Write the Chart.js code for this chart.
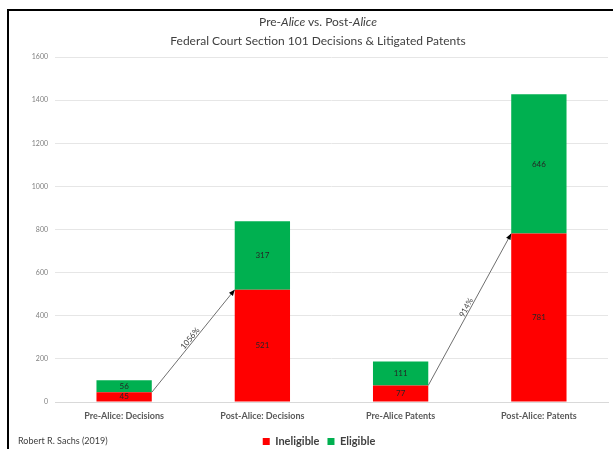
<!DOCTYPE html>
<html>
<head>
<meta charset="utf-8">
<script src="https://cdn.jsdelivr.net/npm/chart.js@4"></script>
<style>
  body { margin: 0; background: #fff; }
  #wrap { position: relative; width: 613px; height: 449px; overflow: hidden; }
  #frame { position: absolute; left: 7px; top: 9px; width: 700px; height: 500px; border-left: 2px solid #000; border-top: 2px solid #000; }
  #title { position: absolute; left: 8px; top: 12px; width: 620px; text-align: center; font: 12px Lato, sans-serif; line-height: 19px; color: #404040; }
  #note { position: absolute; left: 18px; top: 435px; font: 9px Lato, sans-serif; color: #404040; }
  canvas { position: absolute; left: 0; top: 0; }
</style>
</head>
<body>
<div id="wrap">
  <div id="frame"></div>
  <canvas id="myChart" width="613" height="449"></canvas>
  <div id="title">Pre-<i>Alice</i> vs. Post-<i>Alice</i><br>Federal Court Section 101 Decisions &amp; Litigated Patents</div>
  <div id="note">Robert R. Sachs (2019)</div>
</div>
<script>
'use strict';

let categories = ['Pre-Alice: Decisions', 'Post-Alice: Decisions', 'Pre-Alice Patents', 'Post-Alice: Patents'];
let ineligible = [45, 521, 77, 781];
let eligible = [56, 317, 111, 646];
let yTicks = [0, 200, 400, 600, 800, 1000, 1200, 1400, 1600];
let arrowFrom = [0, 2];
let arrowTo = [1, 3];
let arrowLabels = ['1056%', '914%'];

// numbers in the middle of each bar piece
let barLabels = {
  id: 'barLabels',
  afterDatasetsDraw(chart) {
    let ctx = chart.ctx;
    ctx.save();
    ctx.font = '8px Lato, sans-serif';
    ctx.fillStyle = '#262626';
    ctx.textAlign = 'center';
    ctx.textBaseline = 'middle';
    chart.data.datasets.forEach(function(ds, i) {
      chart.getDatasetMeta(i).data.forEach(function(bar, j) {
        ctx.fillText(ds.data[j], bar.x, (bar.y + bar.base) / 2);
      });
    });
    ctx.restore();
  }
};

// growth arrows between the ineligible tops
let growthArrows = {
  id: 'growthArrows',
  afterDatasetsDraw(chart) {
    let ctx = chart.ctx;
    let y = chart.scales.y;
    let bars = chart.getDatasetMeta(0).data;
    for (let i = 0; i < arrowFrom.length; i++) {
      let a = bars[arrowFrom[i]];
      let b = bars[arrowTo[i]];
      let x1 = a.x + a.width / 2;
      let y1 = y.getPixelForValue(ineligible[arrowFrom[i]]);
      let x2 = b.x - b.width / 2;
      let y2 = y.getPixelForValue(ineligible[arrowTo[i]]);
      let ang = Math.atan2(y2 - y1, x2 - x1);
      ctx.save();
      ctx.strokeStyle = '#6f6f6f';
      ctx.lineWidth = 1;
      ctx.beginPath();
      ctx.moveTo(x1, y1);
      ctx.lineTo(x2, y2);
      ctx.stroke();
      ctx.translate(x2, y2);
      ctx.rotate(ang);
      ctx.fillStyle = '#000';
      ctx.beginPath();
      ctx.moveTo(0, 0);
      ctx.lineTo(-6, -2.5);
      ctx.lineTo(-6, 2.5);
      ctx.closePath();
      ctx.fill();
      ctx.restore();

      ctx.save();
      ctx.translate((x1 + x2) / 2, (y1 + y2) / 2);
      ctx.rotate(ang);
      ctx.font = '8px Lato, sans-serif';
      ctx.fillStyle = '#404040';
      ctx.textAlign = 'center';
      ctx.textBaseline = 'bottom';
      ctx.fillText(arrowLabels[i], 0, 0);
      ctx.restore();
    }
  }
};

let shiftLegend = {
  id: 'shiftLegend',
  afterLayout(chart) {
    chart.legend.left += 15;
    chart.legend.right += 15;
    chart.legend.top += 2;
    chart.legend.bottom += 2;
  }
};

const config = {
  type: 'bar',
  data: {
    labels: categories,
    datasets: [
      { label: 'Ineligible', data: ineligible, backgroundColor: '#FF0000' },
      { label: 'Eligible', data: eligible, backgroundColor: '#00B050' }
    ]
  },
  options: {
    responsive: false,
    animation: false,
    devicePixelRatio: 1,
    barPercentage: 0.4,
    categoryPercentage: 1,
    layout: { padding: { top: 57, right: 5, left: 0, bottom: 0 } },
    plugins: {
      title: { display: false },
      tooltip: { enabled: false },
      legend: {
        position: 'bottom',
        maxHeight: 23,
        labels: {
          boxWidth: 7,
          boxHeight: 7,
          padding: 8,
          color: '#404040',
          font: { family: 'Lato', size: 11, weight: 'bold' }
        }
      }
    },
    scales: {
      x: {
        stacked: true,
        grid: { display: false },
        border: { color: '#d9d9d9' },
        ticks: { color: '#595959', padding: 1, font: { family: 'Lato', size: 9, weight: 'bold' } },
        afterFit: function(scale) { scale.height = 24; }
      },
      y: {
        stacked: true,
        min: 0,
        max: 1600,
        afterBuildTicks: function(scale) { scale.ticks = yTicks.map(function(v) { return { value: v }; }); },
        grid: { color: '#e6e6e6', drawTicks: false },
        border: { display: false },
        ticks: {
          color: '#7f7f7f',
          padding: 7,
          font: { family: 'Lato', size: 7 },
          callback: function(v) { return String(v); }
        },
        afterFit: function(scale) { scale.width = 55; }
      }
    }
  },
  plugins: [barLabels, growthArrows, shiftLegend]
};

let myChart = new Chart(document.getElementById('myChart'), config);
</script>
</body>
</html>
